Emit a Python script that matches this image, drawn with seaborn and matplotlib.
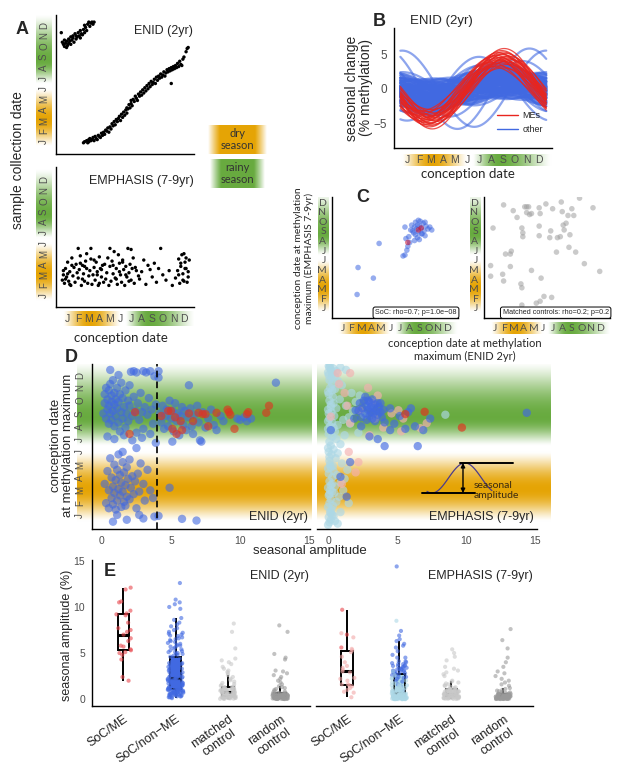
import numpy as np
import pandas as pd
import matplotlib
matplotlib.use("Agg")
import matplotlib.pyplot as plt
from matplotlib.lines import Line2D
import seaborn as sns

sns.set_style("white")
plt.rcParams["font.family"] = ["Liberation Sans", "DejaVu Sans"]
LATO = ["Lato", "DejaVu Sans"]

# ======================= DATA =======================
MONTHS = list("JFMAMJJASOND")
MONTH_POS = list(range(1, 13))

# Panel A (ENID): conception month vs sample collection month
enid_conc = [0.4,0.5,0.6,0.7,0.7,0.8,0.9,0.9,1.0,1.1,1.1,1.2,1.3,1.3,1.4,1.5,1.5,1.6,1.7,1.8,
             1.8,1.9,2.0,2.1,2.2,2.2,2.3,2.4,2.5,2.6,2.6,2.7,2.8,2.9,3.0,3.1,3.2,3.3,3.4,3.5,
             2.5,2.6,2.8,2.9,3.0,3.0,3.1,3.2,3.3,3.4,3.5,3.6,3.7,3.8,3.9,4.0,4.1,4.2,4.3,4.4,
             4.5,4.6,4.7,4.8,4.9,5.0,5.1,5.2,5.3,5.4,5.5,5.6,5.7,5.8,5.9,6.0,6.1,6.2,6.3,6.4,
             6.5,6.6,6.6,6.7,6.8,6.9,7.0,7.0,7.1,7.2,7.3,7.4,7.5,7.6,7.7,7.8,7.9,8.0,8.1,8.2,
             8.3,8.4,8.5,8.6,8.7,8.8,8.9,9.0,9.1,9.2,9.3,9.4,9.5,9.6,9.7,9.8,9.9,10.0,10.1,10.2,
             10.3,10.4,10.5,10.6,10.7,10.8,10.9,11.0,11.1,11.2,11.3,11.4,11.5,11.6,11.7,11.8,11.9,12.0,12.2,12.3,
             12.4,10.8]
enid_coll = [11.3,10.4,10.2,10.6,10.0,10.3,9.9,10.5,10.1,10.7,10.3,10.5,10.9,10.2,10.6,10.8,11.0,10.4,11.2,10.7,
             11.0,10.9,11.3,11.0,11.5,10.8,11.2,11.1,11.6,11.3,12.0,11.8,11.5,12.1,12.3,11.9,12.2,12.3,12.1,12.3,
             0.9,1.0,1.1,0.9,1.2,1.0,1.3,1.1,1.2,1.4,1.1,1.5,1.3,1.2,1.6,1.5,1.4,1.8,1.6,1.9,
             1.7,2.1,2.0,2.3,1.9,2.4,2.2,2.7,2.5,2.9,2.6,3.1,2.9,3.2,3.4,3.0,3.6,3.3,3.8,3.5,
             4.0,3.7,4.2,4.1,4.5,4.2,4.6,4.9,4.4,5.0,4.8,5.3,5.1,4.9,5.5,5.3,5.7,5.4,5.9,5.6,
             6.1,5.8,6.3,6.0,6.5,6.2,6.7,6.4,6.6,6.9,6.5,7.1,6.8,7.2,7.0,7.4,7.1,7.3,7.6,7.2,
             7.5,7.8,7.6,7.9,7.7,8.0,7.8,8.1,7.9,8.2,8.0,8.4,8.1,8.6,8.3,8.2,8.8,9.0,9.5,9.8,
             9.9,6.5]

# Panel A (EMPHASIS)
emph_conc = [0.5,0.6,0.7,0.8,0.9,1.0,1.1,1.2,1.3,1.4,
             0.6,0.8,1.0,1.2,1.4,1.5,1.6,1.7,1.8,1.9,
             2.0,2.1,2.2,2.3,2.4,2.5,2.6,2.7,2.8,2.9,
             2.0,2.2,2.4,2.6,2.8,3.0,3.1,3.2,3.3,3.4,
             3.5,3.6,3.7,3.8,3.9,4.0,4.1,4.2,4.3,4.4,
             3.2,3.5,3.8,4.0,4.2,4.5,4.6,4.7,4.8,4.9,
             5.0,5.1,5.2,5.3,5.4,5.5,5.6,5.7,5.8,5.9,
             5.0,5.3,5.6,5.9,6.0,6.1,6.2,6.3,6.4,6.5,
             6.6,6.7,6.8,6.9,7.0,7.1,7.2,7.3,7.5,7.7,
             6.2,6.5,6.8,7.0,7.4,7.8,8.0,8.2,8.4,8.6,
             8.8,9.0,9.2,9.4,9.6,9.8,10.0,10.3,10.6,10.9,
             11.2,11.4,11.5,11.6,11.7,11.8,11.9,12.0,12.1,12.2,
             11.5,11.7,11.9,12.0,12.1,12.2,12.3,12.4,12.4,12.5]
emph_coll = [2.5,3.0,2.2,3.6,2.8,4.2,2.4,3.3,2.0,3.9,
             3.4,2.6,3.1,2.1,4.6,2.9,3.7,2.3,4.0,3.2,
             2.7,3.5,4.8,2.0,3.9,3.1,2.4,4.3,3.6,2.2,
             5.5,4.1,2.6,3.8,5.0,2.9,3.4,4.5,2.1,3.0,
             3.7,2.5,4.2,3.3,2.0,4.7,3.6,2.8,3.9,2.3,
             5.5,4.4,3.0,2.2,3.5,4.0,2.6,3.2,4.6,2.0,
             3.8,2.4,4.3,3.1,5.2,2.7,3.6,2.1,4.9,3.3,
             5.5,3.9,2.6,4.1,3.0,2.3,4.4,3.5,2.0,3.8,
             2.8,5.5,3.2,4.0,2.5,3.6,4.6,2.2,3.4,2.9,
             4.2,3.0,2.4,5.4,3.7,2.6,3.3,4.4,2.1,3.9,
             3.5,2.8,4.1,2.3,3.6,5.5,3.0,2.5,3.4,2.0,
             2.7,3.4,4.5,2.2,3.8,4.9,3.1,2.4,4.2,3.6,
             3.0,4.1,2.5,5.0,3.6,4.6,2.3,3.3,2.8,4.4]

# Panel B: fitted seasonal curves (amplitude in % methylation, peak month)
blue_curves = [(0.5,8.5),(0.8,9.0),(1.0,9.4),(1.2,8.2),(1.4,9.8),(1.5,8.8),(1.7,9.2),(1.8,8.0),(2.0,9.6),(2.1,8.6),
               (2.2,9.1),(2.3,8.4),(2.4,9.9),(2.5,8.9),(2.6,9.3),(2.7,8.1),(2.8,9.5),(2.9,8.7),(3.0,9.0),(3.1,8.3),
               (3.2,9.7),(3.3,8.8),(3.5,9.2),(3.7,8.6),(3.9,9.0),(1.1,10.2),(1.6,10.5),(2.0,7.6),(2.4,7.8),(2.8,10.0),
               (1.3,8.9),(1.9,9.4),(2.2,8.5),(2.6,9.1),(3.4,8.9),(1.5,9.6),(2.9,9.2),(3.6,8.4),(2.5,8.2),(3.2,9.0),
               (1.8,10.3),(1.7,7.9),(2.6,10.4),(2.1,7.3),(3.6,7.5),(3.3,7.0),
               (0.9,8.7),(1.1,9.1),(1.4,8.4),(1.6,9.3),(1.9,8.9),(2.3,9.7),(2.7,8.6),(3.0,8.0),(3.4,9.4),(1.2,7.7),
               (0.7,9.5),(1.0,8.0),(1.3,10.0),(1.7,8.6),(2.0,9.0),(2.4,8.7),(2.8,9.1),(3.1,9.6),(3.5,8.7),(3.8,8.9),
               (2.2,10.8),(2.0,11.2),(1.8,11.6),(2.3,11.9),(1.6,12.3),(2.1,10.6),(1.9,11.4),(2.4,12.6),(2.2,0.2),
               (1.7,11.0),(2.0,12.0),(1.5,10.9),(2.1,11.7),
               (1.5,0.5),(1.3,1.0),(1.2,1.6),(1.4,2.2),(1.0,2.8),(1.1,0.8),(1.2,1.9),
               (1.5,3.3),(1.3,4.0),(1.6,4.6),(1.2,5.2),(1.0,5.8),(1.4,3.7),(1.1,4.3),(1.3,5.0),
               (2.2,6.3),(2.5,6.8),(2.7,7.2),(2.0,6.6),(2.4,7.4),(1.8,6.9),(2.6,7.1),
               (0.3,1.0),(0.4,3.0),(0.3,5.0),(0.5,7.0),(0.4,11.0),(0.6,2.0),(0.2,6.0),(0.7,10.0),(0.6,4.0),(0.3,12.0),
               (0.8,5.5),(0.9,11.5),(0.5,0.5),(0.7,3.5),
               (5.5,0.6),(5.8,11.2),(4.6,7.0),(4.0,10.6)]
red_curves = [(3.0,9.0),(3.3,8.6),(3.5,9.4),(3.7,8.8),(3.9,9.2),(4.0,8.9),(4.1,8.5),(4.2,9.0),(4.3,8.3),(4.4,9.3),
              (4.5,8.7),(4.6,9.1),(4.7,9.5),(4.8,8.4),(4.9,9.0),(5.0,8.8),(5.1,9.2),(5.2,8.6),(5.3,9.0),(5.5,8.9),
              (3.2,8.1),(3.8,8.0),(4.2,9.6),(4.6,8.2),(5.8,9.1)]

# Panel C: conception month at methylation maximum (ENID, EMPHASIS)
c_soc = [(7.3,6.4),(7.5,6.5),(7.7,7.0),(7.6,8.2),(7.9,8.4),(8.0,7.8),(8.2,9.6),(8.3,9.0),(8.4,8.8),(8.5,9.4),
         (8.6,8.6),(8.6,9.9),(8.7,9.2),(8.8,8.3),(8.8,9.6),(8.9,8.9),(9.0,9.5),(9.0,8.1),(9.1,10.0),(9.2,9.3),
         (9.3,8.7),(9.4,9.8),(9.5,9.0),(9.6,8.5),(9.7,9.5),(9.9,9.2),(10.1,9.4),(10.3,9.1),(8.1,9.1),(8.5,8.0),
         (8.9,10.1),(9.2,8.7),(9.6,9.9),(7.8,7.4),(7.5,9.4),(4.8,7.7),(2.6,5.2),(4.2,4.1),(2.5,2.4)]
c_soc_me = [(7.8,7.8),(8.9,9.1),(9.2,9.3)]
c_ctrl = [(1.9,11.7),(2.9,11.1),(3.3,10.4),(4.1,11.5),(4.3,11.5),(4.5,11.5),(4.3,10.9),(4.8,10.8),(4.6,10.7),(5.6,11.4),
          (5.7,10.8),(7.0,11.3),(7.9,12.0),(8.0,11.0),(8.6,10.6),(9.0,11.3),(9.2,10.6),(9.8,12.4),(11.2,11.4),(0.8,9.3),
          (3.8,9.3),(3.9,8.8),(3.9,8.4),(5.6,8.5),(5.6,9.5),(6.8,9.0),(6.7,8.3),(7.5,8.3),(7.8,8.4),(8.2,9.1),
          (8.1,9.6),(8.8,8.6),(8.7,7.3),(9.4,6.8),(7.4,6.8),(2.1,6.6),(2.6,6.6),(2.7,6.9),(0.55,5.4),(1.8,4.5),
          (2.6,5.3),(0.55,4.3),(1.9,3.8),(4.8,4.9),(5.8,4.1),(3.7,3.5),(3.8,3.1),(10.3,5.6),(11.9,4.8),(6.9,2.1),
          (5.7,1.7),(5.3,1.5),(3.8,1.3),(6.1,2.2),(8.4,9.8),(6.3,11.8)]

# Panel D/E: seasonal amplitude, phase (conception month at maximum)
enid_nonme = [
    (0.2,3.5),(0.3,2.0),(0.4,4.5),(0.5,1.6),(0.5,3.0),(0.6,5.5),(0.7,2.4),(0.7,4.0),(0.8,3.3),(0.8,1.9),
    (0.9,5.0),(0.9,2.8),(1.0,3.8),(1.0,1.5),(1.1,4.6),(1.1,2.2),(1.2,3.1),(1.2,5.8),(1.3,2.6),(1.3,4.2),
    (1.4,1.7),(1.4,3.6),(1.5,2.9),(1.5,5.2),(1.6,2.1),(1.6,4.4),(1.7,3.4),(1.7,1.8),(1.8,2.5),(1.8,4.8),
    (1.9,3.9),(2.0,2.3),(2.0,5.4),(2.1,3.2),(2.2,4.1),(2.3,2.7),(2.4,3.7),(2.5,1.6),(2.6,4.3),(2.7,2.9),
    (2.8,5.1),(3.0,3.5),(3.1,2.2),(3.3,4.6),(3.5,3.0),(3.7,2.4),(0.8,0.55),(1.1,1.08),(1.8,0.7),(2.7,1.08),
    (3.0,0.8),(3.8,0.95),(4.1,1.0),(1.5,6.0),(2.5,6.3),
    (0.1,9.0),(0.2,9.8),(0.2,10.5),(0.3,8.6),(0.3,11.0),(0.4,9.3),(0.4,10.1),(0.5,8.2),(0.5,9.6),(0.5,10.8),
    (0.6,9.0),(0.6,11.3),(0.7,8.5),(0.7,9.9),(0.7,10.4),(0.8,9.2),(0.8,11.6),(0.9,8.0),(0.9,9.7),(0.9,10.6),
    (1.0,8.8),(1.0,10.1),(1.1,9.4),(1.1,11.0),(1.2,8.3),(1.2,9.9),(1.3,10.5),(1.3,7.6),(1.4,9.1),(1.4,11.4),
    (1.5,8.6),(1.5,10.2),(1.6,9.5),(1.7,7.9),(1.7,10.8),(1.8,9.0),(1.9,8.4),(1.9,10.0),(2.0,9.6),(2.0,11.2),
    (2.1,12.25),(2.2,8.8),(2.3,12.3),(2.3,10.3),(2.4,9.2),(2.5,7.5),(2.5,12.2),(2.6,9.8),(2.7,8.5),(2.8,10.6),
    (2.9,9.1),(3.0,12.3),(3.0,7.8),(3.1,9.5),(3.2,12.2),(3.3,8.9),(3.4,10.2),(3.5,12.3),(3.5,7.4),(3.6,9.3),
    (3.7,8.2),(3.8,11.9),(3.9,9.7),(4.1,12.3),(4.1,11.8),(0.4,7.2),(0.9,7.0),(1.6,7.3),(2.2,6.9),(2.9,7.1),
    (3.9,6.7),(1.2,12.0),(0.6,12.4),
    (4.2,9.0),(4.3,8.3),(4.4,9.6),(4.5,7.8),(4.6,8.8),(4.7,9.3),(4.8,8.0),(4.9,10.0),(5.0,8.6),(5.1,6.8),
    (5.1,9.2),(5.2,7.6),(5.3,9.8),(5.4,8.4),(5.5,9.0),(5.6,7.3),(5.7,8.8),(5.8,9.5),(5.8,0.77),(5.9,8.1),
    (6.0,9.2),(6.1,7.7),(6.2,8.7),(6.3,11.2),(6.4,9.4),(6.5,8.0),(6.6,7.4),(6.7,8.9),(6.85,0.64),(6.9,9.6),
    (7.0,8.3),(7.1,6.9),(7.2,6.8),(7.3,9.1),(7.5,7.9),(7.7,8.6),(7.9,9.3),(8.1,8.1),(8.3,7.7),(8.6,8.8),
    (8.8,8.4),(4.9,3.2),(9.8,8.6),(10.0,8.5),(10.3,8.7),(10.5,8.4),(10.8,8.6),(12.6,11.4)]
enid_me = [(2.4,9.1),(2.0,7.4),(4.3,8.8),(4.8,9.2),(5.0,9.2),(5.3,8.7),(5.7,8.4),(5.8,7.7),(5.4,7.4),(6.3,9.0),
           (6.6,8.4),(7.0,9.05),(7.3,8.95),(7.5,8.95),(7.7,8.0),(8.3,9.05),(9.1,9.3),(9.2,9.1),(9.3,8.9),(9.6,7.8),
           (10.5,8.95),(10.6,9.1),(11.9,9.05),(12.1,9.6),(5.1,7.8)]

emph_ns = [(0.0,0.3),(0.1,0.5),(0.2,0.7),(0.05,0.9),(0.3,1.1),(0.15,1.3),(0.5,0.6),(0.4,1.0),(0.7,0.4),(0.25,1.5),
           (0.0,1.7),(0.1,2.0),(0.35,1.8),(0.2,2.3),(0.6,2.1),(0.05,2.6),(0.45,2.8),(0.8,2.5),(0.15,3.0),(0.3,2.9),
           (0.0,3.2),(0.2,3.4),(0.1,3.7),(0.5,3.3),(0.3,4.0),(0.9,3.6),(0.05,4.3),(0.65,4.2),(1.2,3.9),(0.4,4.5),
           (0.0,4.7),(0.15,5.0),(0.35,4.9),(0.1,5.3),(0.55,5.5),(0.25,5.8),(1.0,5.1),(0.05,6.0),(0.7,5.9),(1.4,4.6),
           (0.0,6.3),(0.2,6.5),(0.4,6.2),(0.1,6.8),(0.6,7.0),(0.3,7.2),(0.9,6.6),(0.05,7.4),(1.2,7.3),(0.5,7.6),
           (0.0,7.8),(0.15,8.0),(0.3,8.3),(0.1,8.6),(0.7,8.1),(0.45,8.8),(1.1,8.5),(0.05,9.0),(1.5,8.7),(0.25,9.1),
           (0.0,9.3),(0.2,9.5),(0.4,9.8),(0.1,10.0),(0.6,9.4),(0.35,10.3),(1.3,9.6),(0.05,10.5),(0.85,10.1),(2.0,9.9),
           (0.0,10.7),(0.15,11.0),(0.3,11.3),(0.1,11.6),(0.5,10.9),(0.25,11.8),(1.0,11.2),(0.05,12.0),(0.75,11.5),(1.7,10.6),
           (0.0,12.2),(0.2,12.4),(0.1,12.6),(0.4,12.5),(0.3,12.1),(0.6,12.3),(0.05,12.7),(0.9,12.6),(1.3,12.4),(0.15,12.8),
           (0.2,1.2),(0.1,2.7),(0.3,3.5),(0.2,4.8),(0.1,5.6),(0.4,7.9),(0.2,9.7),(0.3,10.8),(0.5,11.9),(0.0,8.4),
           (1.6,8.2),(1.8,9.2),(2.3,10.4),(2.6,8.9),(3.0,9.6),(1.1,3.0),(1.5,2.0),(0.9,1.3),(8.5,8.9),(2.2,7.5)]
emph_sig = [(2.2,9.2),(2.3,9.8),(2.4,8.7),(2.5,9.4),(2.6,10.0),(2.7,9.0),(2.8,9.6),(2.8,8.5),(2.9,9.3),(3.0,9.9),
            (3.0,8.8),(3.1,9.5),(3.1,9.1),(3.2,10.1),(3.2,8.6),(3.3,9.4),(3.3,9.0),(3.4,9.7),(3.4,8.4),(3.5,9.2),
            (3.6,9.8),(3.6,8.9),(3.7,9.5),(3.8,9.1),(3.9,8.7),(4.0,9.3),(4.1,8.3),(2.7,10.3),
            (0.2,7.7),(1.6,5.2),(0.9,4.05),(1.35,2.5),(4.1,6.45),(6.5,6.45),(5.6,7.8),(6.3,8.0),(6.9,7.7),(7.4,8.6),
            (5.8,9.1),(6.0,9.4),(14.4,9.05),(4.5,9.4),(3.8,9.8),(2.9,10.0),(2.0,9.25),(3.0,7.2),(3.6,7.0),(4.5,7.7),
            (4.8,8.2),(5.2,8.8),(2.4,8.0),(1.9,8.6)]
emph_me_sig = [(5.6,8.95),(7.0,9.13),(9.7,7.9)]
emph_me_ns = [(0.2,8.75),(0.7,12.15),(0.8,11.3),(1.0,3.5),(1.2,10.6),(1.4,9.6),(1.5,6.0),(1.6,12.15),(1.6,8.25),(2.0,4.4),
              (2.2,5.2),(2.3,9.25),(3.0,7.3),(2.9,11.0),(3.2,9.9),(3.4,8.6),(3.6,10.4),(4.0,7.9),(4.6,9.0),(5.1,9.25),
              (5.3,7.6),(5.45,8.6),(6.7,7.85),(7.15,8.25)]

# Panel E: control probe amplitudes
enid_matched = [0.02,0.03,0.05,0.06,0.08,0.09,0.1,0.12,0.13,0.15,0.16,0.18,0.19,0.2,0.22,0.23,0.24,0.25,0.26,0.27,0.28,0.29,
                0.31,0.33,0.34,0.36,0.38,0.4,0.41,0.43,0.45,0.47,0.5,0.52,0.54,0.55,0.57,0.6,0.62,0.64,0.66,0.68,0.7,0.72,0.74,
                0.77,0.79,0.82,0.84,0.86,0.89,0.91,0.94,0.96,0.99,1.01,1.04,1.06,1.09,1.11,1.14,1.16,1.19,1.21,1.24,1.26,1.28,1.3,
                1.36,1.44,1.52,1.63,1.75,1.9,2.05,2.2,2.4,2.6,2.8,2.95,3.1,3.3,3.5,3.8,4.0,4.2,4.4,5.5,7.3,8.2]
enid_random = [0.0,0.01,0.01,0.02,0.02,0.03,0.03,0.04,0.04,0.05,0.05,0.06,0.06,0.07,0.07,0.08,0.08,0.09,0.09,0.1,0.1,0.1,
               0.11,0.12,0.13,0.14,0.15,0.16,0.17,0.18,0.19,0.2,0.21,0.22,0.23,0.24,0.25,0.26,0.27,0.28,0.29,0.3,0.31,0.32,0.34,
               0.36,0.37,0.38,0.39,0.4,0.41,0.42,0.43,0.44,0.45,0.47,0.48,0.49,0.5,0.52,0.53,0.55,0.56,0.58,0.6,0.61,0.63,0.65,
               0.7,0.76,0.82,0.9,1.0,1.1,1.2,1.3,1.4,1.6,1.8,2.0,2.2,2.4,2.6,2.8,3.0,3.1,4.3,4.5,4.9,7.3,8.0]
emph_matched = [0.01,0.02,0.04,0.05,0.06,0.08,0.09,0.1,0.11,0.13,0.14,0.15,0.17,0.18,0.19,0.2,0.22,0.23,0.25,0.26,0.28,0.29,
                0.31,0.32,0.33,0.35,0.36,0.37,0.39,0.4,0.41,0.43,0.44,0.45,0.47,0.48,0.49,0.51,0.52,0.54,0.55,0.56,0.58,0.59,0.6,
                0.62,0.64,0.66,0.68,0.7,0.73,0.75,0.77,0.8,0.82,0.84,0.87,0.89,0.91,0.94,0.96,0.98,1.0,1.02,1.05,1.07,1.09,1.1,
                1.15,1.2,1.28,1.35,1.43,1.5,1.6,1.7,1.8,1.9,2.0,2.5,2.7,2.9,3.1,3.3,3.5,4.2,4.6,5.0,5.4]
emph_random = [0.0,0.01,0.01,0.02,0.02,0.03,0.03,0.04,0.04,0.05,0.05,0.06,0.06,0.07,0.07,0.08,0.08,0.09,0.09,0.1,0.1,0.1,
               0.11,0.12,0.13,0.13,0.14,0.15,0.16,0.17,0.17,0.18,0.19,0.2,0.21,0.22,0.23,0.24,0.25,0.26,0.27,0.28,0.29,0.3,0.3,
               0.31,0.32,0.33,0.35,0.36,0.37,0.39,0.4,0.41,0.43,0.44,0.46,0.47,0.49,0.5,0.52,0.53,0.55,0.56,0.58,0.59,0.6,0.6,
               0.66,0.72,0.78,0.85,0.92,1.0,1.1,1.2,1.45,1.6,1.8,2.0,2.2,2.5,2.8,3.0,3.5,4.0,4.5,5.5,6.4,7.6]

E_ORDER = ["SoC/ME", "SoC/non\u2212ME", "matched\ncontrol", "random\ncontrol"]

# ======================= STYLE =======================
GREY = "#4D4D4D"
BLUE = "#4169E1"
RED = "#E8251F"
LIGHTBLUE = "#ADD8E6"
PINK = "#F4B0B0"
ORANGE = np.array([0.90, 0.645, 0.02])
GREEN = np.array([0.41, 0.67, 0.25])

W, H = 617, 784
fig = plt.figure(figsize=(W / 100, H / 100), dpi=100)


def px_axes(l, t, r, b, z=1):
    ax = fig.add_axes([l / W, 1 - b / H, (r - l) / W, (b - t) / H])
    ax.set_zorder(z)
    return ax


def _bump(m, peak, lo, hi):
    """smooth 0..1 bump: 0 at lo and hi, 1 at peak"""
    t = np.where(m >= peak, 1 - (m - peak) / (hi - peak), 1 - (peak - m) / (peak - lo))
    t = np.clip(t, 0, 1)
    return np.sin(np.pi / 2 * t) ** 1.3


def season_rgb(m):
    m = np.asarray(m, float)
    wr = _bump(m, 8.7, 6.5, 13.0)
    wd = _bump(m, 3.1, 0.6, 6.0)
    return 1 - wd[:, None] * (1 - ORANGE) - wr[:, None] * (1 - GREEN)


def vstrip(rect, ylim):
    ax = px_axes(*rect, z=-1)
    m = np.linspace(ylim[0], ylim[1], 400)
    ax.imshow(season_rgb(m)[:, None, :], extent=[0, 1, ylim[0], ylim[1]], origin="lower",
              aspect="auto", interpolation="bilinear")
    ax.set_xlim(0, 1); ax.set_ylim(*ylim); ax.axis("off")
    return ax


def hstrip(rect, xlim):
    ax = px_axes(*rect, z=-1)
    m = np.linspace(xlim[0], xlim[1], 400)
    ax.imshow(season_rgb(m)[None, :, :], extent=[xlim[0], xlim[1], 0, 1], origin="lower",
              aspect="auto", interpolation="bilinear")
    ax.set_xlim(*xlim); ax.set_ylim(0, 1); ax.axis("off")
    return ax


def style(ax, left=True, labelsize=7):
    for s in ["top", "right"]:
        ax.spines[s].set_visible(False)
    ax.spines["left"].set_visible(left)
    for s in ["left", "bottom"]:
        ax.spines[s].set_linewidth(1.0)
        ax.spines[s].set_color("black")
    ax.tick_params(length=3, width=0.8, color="black", labelcolor=GREY, labelsize=labelsize, pad=2)
    ax.set_facecolor("none")
    ax.grid(False)
    ax.set_xlabel(""); ax.set_ylabel("")


def fx(x):
    return x / W


def fy(y):
    return 1 - y / H


def panel_label(x, y, s):
    fig.text(fx(x), fy(y), s, fontsize=13, fontweight="bold", ha="center", va="center")


# ======================= PANEL A =======================
A_XLIM = (-0.1, 12.95)
A1_YLIM = (-0.16, 12.97)
A2_YLIM = (-0.04, 13.2)

vstrip((36, 15, 52, 154), A1_YLIM)
axA1 = px_axes(56, 15, 194, 154)
nA = min(len(enid_conc), len(enid_coll))
dfA1 = pd.DataFrame({"conc": enid_conc[:nA], "coll": enid_coll[:nA]})
sns.scatterplot(data=dfA1, x="conc", y="coll", color="black", s=6, edgecolor="none", ax=axA1, legend=False)
axA1.set_xlim(*A_XLIM); axA1.set_ylim(*A1_YLIM)
style(axA1)
axA1.set_xticks(MONTH_POS); axA1.set_xticklabels([])
axA1.set_yticks(MONTH_POS); axA1.set_yticklabels(MONTHS, rotation=90, va="center")
axA1.text(0.995, 0.885, "ENID (2yr)", transform=axA1.transAxes, ha="right", va="center", fontsize=9)

vstrip((36, 167, 52, 307), A2_YLIM)
hstrip((56, 311, 194, 326), A_XLIM)
axA2 = px_axes(56, 167, 194, 307)
n2 = min(len(emph_conc), len(emph_coll))
dfA2 = pd.DataFrame({"conc": emph_conc[:n2], "coll": emph_coll[:n2]})
sns.scatterplot(data=dfA2, x="conc", y="coll", color="black", s=6, edgecolor="none", ax=axA2, legend=False)
axA2.set_xlim(*A_XLIM); axA2.set_ylim(*A2_YLIM)
style(axA2)
axA2.set_xticks(MONTH_POS); axA2.set_xticklabels(MONTHS, fontsize=7.5)
axA2.set_yticks(MONTH_POS); axA2.set_yticklabels(MONTHS, rotation=90, va="center")
axA2.text(0.995, 0.9, "EMPHASIS (7-9yr)", transform=axA2.transAxes, ha="right", va="center", fontsize=9)

fig.text(fx(18), fy(160), "sample collection date", rotation=90, ha="center", va="center", fontsize=10)
fig.text(fx(121), fy(338), "conception date", ha="center", va="center", fontsize=9.5, family=LATO)
panel_label(22, 30, "A")


def season_box(rect, color, text):
    ax = px_axes(*rect, z=-1)
    t = np.linspace(0, 1, 200)
    w = np.clip(1.7 * np.sin(np.pi * t), 0, 1)
    rgb = 1 - w[:, None] * (1 - np.asarray(color))
    ax.imshow(rgb[None, :, :], extent=[0, 1, 0, 1], aspect="auto", interpolation="bilinear")
    ax.set_xlim(0, 1); ax.set_ylim(0, 1); ax.axis("off")
    ax.text(0.5, 0.5, text, ha="center", va="center", fontsize=8, family=LATO, color="#333333", linespacing=1.15)


season_box((208, 125, 267, 154), ORANGE, "dry\nseason")
season_box((210, 159, 265, 188), GREEN, "rainy\nseason")

# ======================= PANEL B =======================
B_XLIM = (-0.08, 13.08)
B_YLIM = (-8.55, 8.76)
hstrip((394, 154, 552, 166), B_XLIM)
axB = px_axes(394, 28, 552, 148)
xs = np.linspace(0.45, 12.6, 160)
frames = []
for kind, curves in (("other", blue_curves), ("MEs", red_curves)):
    for i, (a, p) in enumerate(curves):
        frames.append(pd.DataFrame({"x": xs, "y": a * np.cos(2 * np.pi * (xs - p) / 12),
                                    "cid": f"{kind}{i}", "kind": kind}))
dfB = pd.concat(frames, ignore_index=True)
sns.lineplot(data=dfB[dfB.kind == "other"], x="x", y="y", units="cid", estimator=None, color=BLUE,
             lw=1.6, alpha=0.6, ax=axB, legend=False, sort=False)
sns.lineplot(data=dfB[dfB.kind == "MEs"], x="x", y="y", units="cid", estimator=None, color=RED,
             lw=0.9, alpha=0.8, ax=axB, legend=False, sort=False)
axB.set_xlim(*B_XLIM); axB.set_ylim(*B_YLIM)
style(axB, labelsize=8.5)
axB.set_xticks(MONTH_POS); axB.set_xticklabels(MONTHS, fontsize=7.5)
axB.set_yticks([-5, 0, 5])
axB.legend(handles=[Line2D([], [], color=RED, lw=1), Line2D([], [], color=BLUE, lw=1)],
           labels=["MEs", "other"], loc="lower left", bbox_to_anchor=(0.6, 0.05), frameon=False,
           fontsize=6.5, handlelength=2.3, labelspacing=0.5, handletextpad=0.5)
axB.text(0.1, 1.06, "ENID (2yr)", transform=axB.transAxes, ha="left", va="center", fontsize=9.5)
fig.text(fx(359), fy(88), "seasonal change\n(% methylation)", rotation=90, ha="center", va="center",
         fontsize=10, linespacing=1.0)
fig.text(fx(468), fy(174), "conception date", ha="center", va="center", fontsize=9.5, family=LATO)
panel_label(379, 22, "B")

# ======================= PANEL C =======================
C_YLIM = (-0.04, 12.52)
C1_XLIM = (-0.12, 13.04)
C2_XLIM = (-0.14, 12.97)
vstrip((318, 197, 329, 318), C_YLIM)
hstrip((332, 322, 458, 334), C1_XLIM)
vstrip((470, 197, 481, 318), C_YLIM)
hstrip((484, 322, 610, 334), C2_XLIM)

axC1 = px_axes(332, 197, 458, 318)
dfC1 = pd.DataFrame(c_soc + c_soc_me, columns=["enid", "emph"])
dfC1["kind"] = ["SoC"] * len(c_soc) + ["ME"] * len(c_soc_me)
sns.scatterplot(data=dfC1, x="enid", y="emph", hue="kind", palette={"SoC": BLUE, "ME": "#C8102E"},
                s=16, alpha=0.55, edgecolor="none", ax=axC1, legend=False)
axC2 = px_axes(484, 197, 610, 318)
dfC2 = pd.DataFrame(c_ctrl, columns=["enid", "emph"])
sns.scatterplot(data=dfC2, x="enid", y="emph", color="#A0A0A0", s=16, alpha=0.55, edgecolor="none",
                ax=axC2, legend=False)
for ax, xl, txt in ((axC1, C1_XLIM, "SoC: rho=0.7; p=1.0e\u221208"),
                    (axC2, C2_XLIM, "Matched controls: rho=0.2; p=0.2")):
    ax.set_xlim(*xl); ax.set_ylim(*C_YLIM)
    style(ax, labelsize=7)
    ax.set_xticks(MONTH_POS); ax.set_xticklabels(MONTHS, family=LATO, fontsize=7.5)
    ax.set_yticks(MONTH_POS); ax.set_yticklabels(MONTHS, family=LATO, fontsize=7.5)
    ax.tick_params(length=2.5, pad=1.5)
    ax.text(0.99, 0.015, txt, transform=ax.transAxes, ha="right", va="bottom", fontsize=5.2,
            bbox=dict(boxstyle="round,pad=0.3,rounding_size=0.3", fc="white", ec="black", lw=0.7))
fig.text(fx(304), fy(258), "conception date at methylation\nmaximum (EMPHASIS 7-9yr)", rotation=90,
         ha="center", va="center", fontsize=7.5, family=LATO, linespacing=1.1)
fig.text(fx(465), fy(350), "conception date at methylation\nmaximum (ENID 2yr)", ha="center", va="center",
         fontsize=8, family=LATO, linespacing=1.2)
panel_label(363, 198, "C")

# ======================= PANEL D =======================
D_YLIM = (-0.02, 12.86)
vstrip((77, 364, 312, 529), D_YLIM)
vstrip((317, 364, 550, 529), D_YLIM)

axD1 = px_axes(92, 364, 310, 529)
dfD1 = pd.DataFrame(enid_nonme + enid_me, columns=["amp", "phase"])
dfD1["kind"] = ["other"] * len(enid_nonme) + ["ME"] * len(enid_me)
sns.scatterplot(data=dfD1, x="amp", y="phase", hue="kind", palette={"other": BLUE, "ME": "#E3301E"},
                s=36, alpha=0.6, edgecolor="none", ax=axD1, legend=False)
axD1.axvline(4, color="black", lw=1.2, ls=(0, (4, 2.5)))
axD1.set_xlim(-0.72, 15.07); axD1.set_ylim(*D_YLIM)
style(axD1, labelsize=7.5)
axD1.set_xticks([0, 5, 10, 15])
axD1.set_yticks(MONTH_POS); axD1.set_yticklabels(MONTHS, rotation=90, va="center", fontsize=7)
axD1.text(0.99, 0.07, "ENID (2yr)", transform=axD1.transAxes, ha="right", va="center", fontsize=9)

axD2 = px_axes(317, 364, 537, 529)
dfD2 = pd.DataFrame(emph_ns + emph_me_ns + emph_sig + emph_me_sig, columns=["amp", "phase"])
dfD2["kind"] = (["ns"] * len(emph_ns) + ["me_ns"] * len(emph_me_ns) + ["sig"] * len(emph_sig)
                + ["me_sig"] * len(emph_me_sig))
sns.scatterplot(data=dfD2, x="amp", y="phase", hue="kind",
                palette={"ns": LIGHTBLUE, "me_ns": PINK, "sig": BLUE, "me_sig": "#E3301E"},
                s=36, alpha=0.65, edgecolor="none", ax=axD2, legend=False)
axD2.set_xlim(-0.8, 15.14); axD2.set_ylim(*D_YLIM)
style(axD2, left=False, labelsize=7.5)
axD2.set_xticks([0, 5, 10, 15])
axD2.set_yticks([])
axD2.text(0.985, 0.07, "EMPHASIS (7-9yr)", transform=axD2.transAxes, ha="right", va="center", fontsize=9)

# schematic of seasonal amplitude (annotation)
T = axD2.transAxes
sx = np.linspace(0.5, 0.795, 80)
axD2.plot(sx, 0.309 + 0.0909 * np.cos(2 * np.pi * (sx - 0.6727) / 0.3), color="#4B3C8C", lw=0.9, transform=T)
axD2.plot([0.65, 0.89], [0.40, 0.40], color="black", lw=1.4, transform=T)
axD2.plot([0.477, 0.718], [0.218, 0.218], color="black", lw=1.4, transform=T)
axD2.annotate("", xy=(0.6636, 0.40), xytext=(0.6636, 0.218), xycoords=T, textcoords=T,
              arrowprops=dict(arrowstyle="<|-|>", color="black", lw=1.0, mutation_scale=6, shrinkA=0, shrinkB=0))
axD2.text(0.714, 0.232, "seasonal\namplitude", transform=T, ha="left", va="center", fontsize=7.5,
          family=LATO, color="#3A2A10", linespacing=1.1)

fig.text(fx(310), fy(551), "seasonal amplitude", ha="center", va="center", fontsize=9.5)
fig.text(fx(62), fy(445), "conception date\nat methylation maximum", rotation=90, ha="center", va="center",
         fontsize=9.5, linespacing=1.0)
panel_label(71, 358, "D")

# ======================= PANEL E =======================
E_YLIM = (-0.75, 15.1)
STRIP_PAL = {"me_sig": "#E8474D", "me_ns": "#F2A7A7", "non_sig": BLUE, "non_ns": LIGHTBLUE,
             "matched": "#C8C8C8", "random": "#9A9A9A"}


def e_frame(me_sig, me_ns, non_sig, non_ns, matched, random_):
    rows = ([(E_ORDER[0], a, "me_sig") for a in me_sig] + [(E_ORDER[0], a, "me_ns") for a in me_ns]
            + [(E_ORDER[1], a, "non_sig") for a in non_sig] + [(E_ORDER[1], a, "non_ns") for a in non_ns]
            + [(E_ORDER[2], a, "matched") for a in matched] + [(E_ORDER[3], a, "random") for a in random_])
    return pd.DataFrame(rows, columns=["group", "amp", "ptype"])


dfE1 = e_frame([a for a, _ in enid_me], [], [a for a, _ in enid_nonme], [], enid_matched, enid_random)
dfE2 = e_frame([a for a, _ in emph_me_sig], [a for a, _ in emph_me_ns], [a for a, _ in emph_sig],
               [a for a, _ in emph_ns], emph_matched, emph_random)

axE1 = px_axes(92, 560, 310, 706)
axE2 = px_axes(316, 560, 533, 706)
box_fill = {"ENID": ["none", BLUE, "#DADADA", "#8C8C8C"], "EMPH": ["none", LIGHTBLUE, "#E6E6E6", "#8C8C8C"]}
for ax, df, key, title in ((axE1, dfE1, "ENID", "ENID (2yr)"), (axE2, dfE2, "EMPH", "EMPHASIS (7-9yr)")):
    sns.stripplot(data=df, x="group", y="amp", hue="ptype", palette=STRIP_PAL, order=E_ORDER, jitter=0.15,
                  size=3.0, alpha=0.6, linewidth=0, legend=False, ax=ax, dodge=False)
    n_before = len(ax.patches)
    sns.boxplot(data=df, x="group", y="amp", hue="group", order=E_ORDER, hue_order=E_ORDER,
                palette=dict(zip(E_ORDER, ["white", "white", "white", "white"])), saturation=1,
                width=0.22, showfliers=False, linewidth=1.4, linecolor="black", legend=False, ax=ax,
                medianprops=dict(linewidth=2.2, color="black"), capprops=dict(linewidth=0))
    boxes = ax.patches[n_before:]
    boxes = sorted(boxes, key=lambda p: p.get_path().vertices[:, 0].mean())
    for patch, fc in zip(boxes, box_fill[key]):
        patch.set_facecolor(fc)
    ax.set_xlim(-0.6, 3.57); ax.set_ylim(*E_YLIM)
    style(ax, left=(key == "ENID"), labelsize=7.5)
    ax.set_xticks(range(4))
    ax.set_xticklabels(E_ORDER, rotation=35, ha="right", rotation_mode="anchor", fontsize=9,
                       color="#222222", multialignment="center")
    ax.text(0.995 if key == "ENID" else 1.0, 0.89, title, transform=ax.transAxes, ha="right",
            va="center", fontsize=9)
axE1.set_yticks([0, 5, 10, 15])
axE2.set_yticks([])
axE2.tick_params(left=False)
fig.text(fx(67), fy(635), "seasonal amplitude (%)", rotation=90, ha="center", va="center", fontsize=9)
panel_label(110, 571, "E")

fig.savefig("out.png", dpi=100)
